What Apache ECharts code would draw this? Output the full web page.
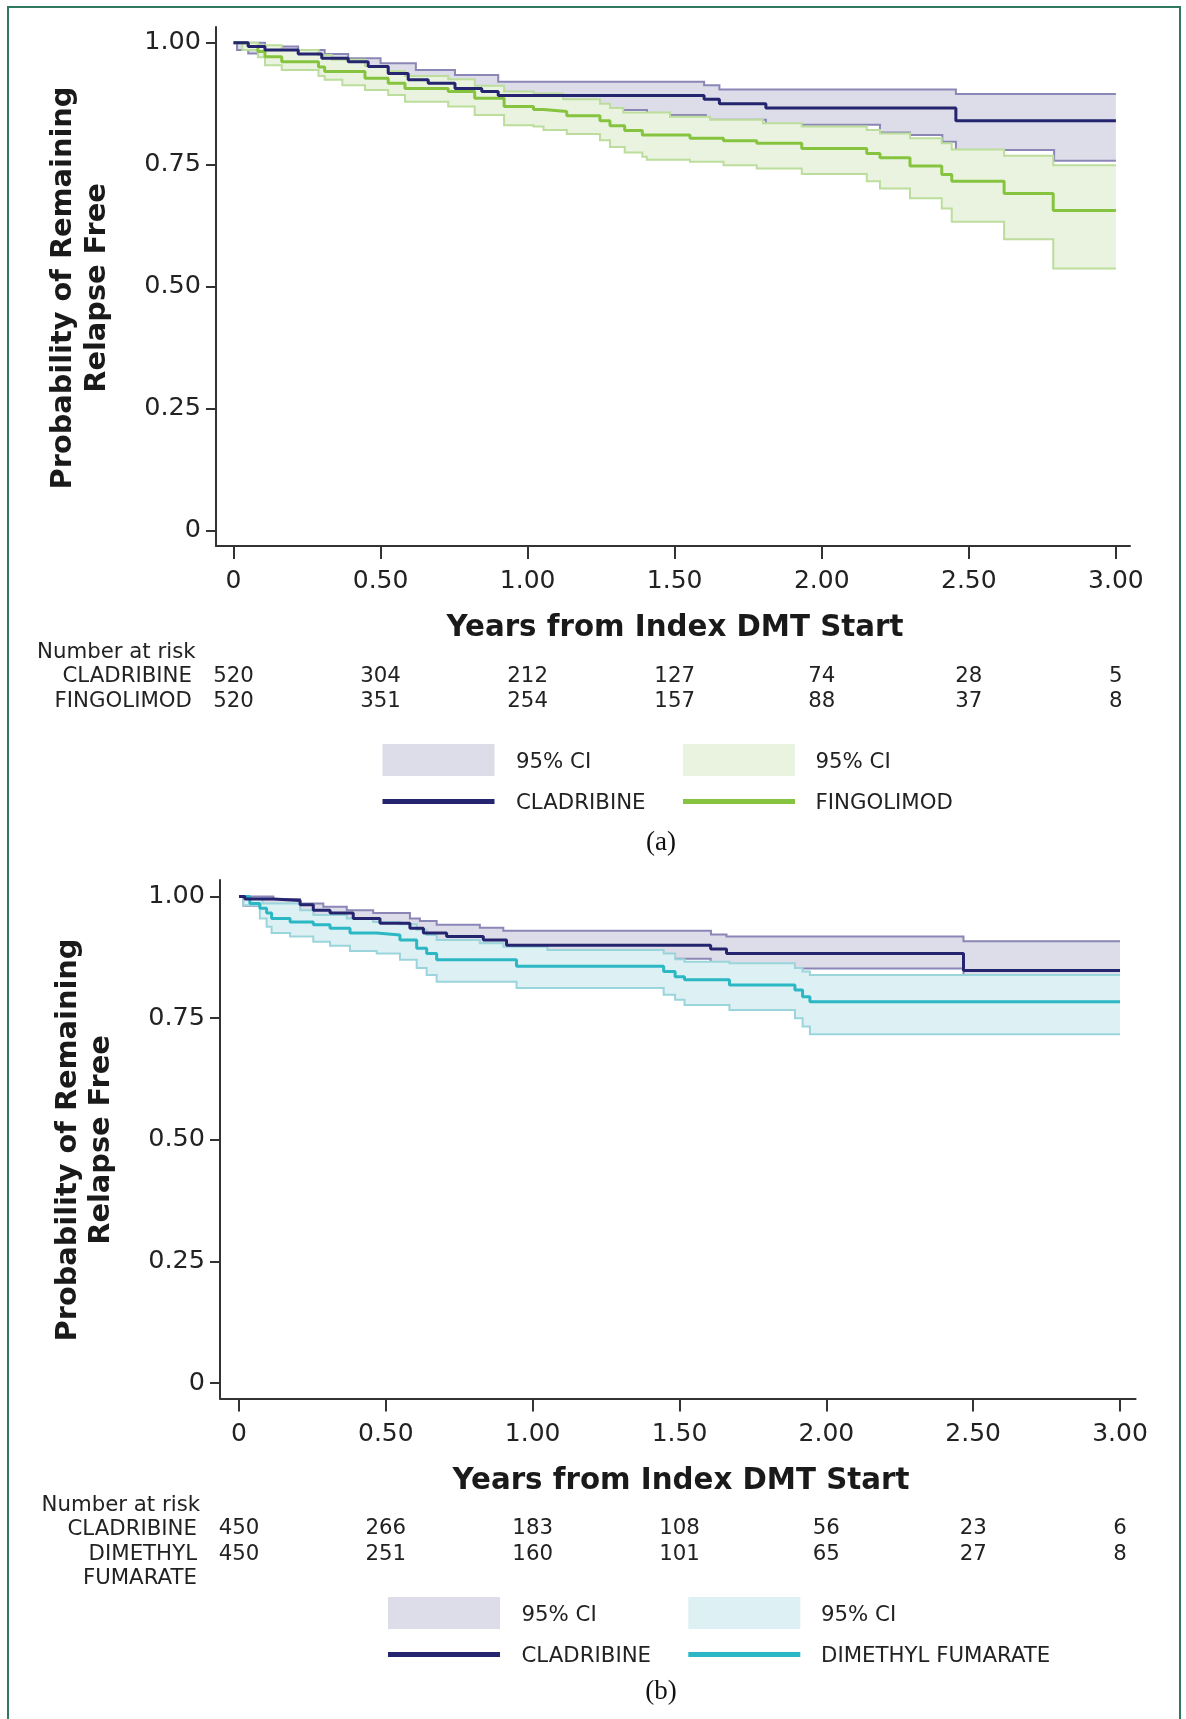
<!DOCTYPE html>
<html><head><meta charset="utf-8">
<script src="https://cdn.jsdelivr.net/npm/echarts@6/dist/echarts.min.js"></script>
<style>
html,body{margin:0;padding:0;background:#fff;}
#chart{position:absolute;left:0;top:0;width:1186px;height:1719px;}
#frame{position:absolute;left:7px;top:6px;width:1174px;height:1760px;border:2px solid #2f7a5f;box-sizing:border-box;pointer-events:none;z-index:5;}
</style></head><body>
<div id="chart"></div>
<div id="frame"></div>
<script>
// ---------- data ----------
const xTicks = [0, 0.5, 1, 1.5, 2, 2.5, 3];
const xTickLabels = ['0', '0.50', '1.00', '1.50', '2.00', '2.50', '3.00'];
const yTicks = [0, 0.25, 0.5, 0.75, 1];
const yTickLabels = ['0', '0.25', '0.50', '0.75', '1.00'];

// Panel (a): Cladribine vs Fingolimod
const cladA_surv = [[0,1.000],[0.05,0.992],[0.107,0.985],[0.22,0.977],[0.30,0.968],[0.39,0.961],[0.458,0.951],[0.526,0.937],[0.594,0.924],[0.662,0.917],[0.753,0.906],[0.844,0.900],[0.90,0.892],[1.60,0.884],[1.652,0.875],[1.81,0.866],[2.456,0.840],[3.0,0.840]];
const cladA_upper = [[0,1.000],[0.107,0.992],[0.22,0.985],[0.31,0.977],[0.39,0.968],[0.50,0.958],[0.62,0.944],[0.753,0.934],[0.90,0.920],[1.60,0.913],[1.652,0.904],[2.456,0.895],[3.0,0.895]];
const cladA_lower = [[0,1.000],[0.012,0.985],[0.05,0.978],[0.107,0.970],[0.22,0.960],[0.30,0.950],[0.39,0.941],[0.458,0.930],[0.526,0.915],[0.594,0.901],[0.662,0.893],[0.753,0.881],[0.844,0.874],[0.90,0.862],[1.406,0.852],[1.606,0.842],[1.81,0.832],[2.198,0.816],[2.30,0.811],[2.41,0.797],[2.456,0.780],[2.79,0.758],[3.0,0.758]];
const fingA_surv = [[0,1.000],[0.05,0.992],[0.083,0.982],[0.107,0.971],[0.164,0.961],[0.289,0.950],[0.31,0.941],[0.447,0.927],[0.526,0.917],[0.583,0.906],[0.73,0.900],[0.82,0.886],[0.92,0.869],[1.02,0.863],[1.054,0.859],[1.133,0.850],[1.246,0.840],[1.28,0.830],[1.33,0.820],[1.39,0.811],[1.552,0.804],[1.666,0.799],[1.779,0.794],[1.932,0.783],[2.153,0.773],[2.198,0.764],[2.30,0.747],[2.408,0.730],[2.442,0.716],[2.62,0.691],[2.787,0.656],[3.0,0.656]];
const fingA_upper = [[0,1.000],[0.083,0.995],[0.164,0.985],[0.289,0.975],[0.334,0.965],[0.447,0.952],[0.526,0.942],[0.583,0.932],[0.73,0.925],[0.82,0.912],[0.92,0.900],[1.02,0.896],[1.121,0.884],[1.246,0.875],[1.28,0.866],[1.325,0.857],[1.484,0.848],[1.62,0.842],[1.80,0.835],[1.932,0.828],[2.153,0.821],[2.198,0.814],[2.30,0.804],[2.408,0.794],[2.442,0.781],[2.62,0.768],[2.787,0.749],[3.0,0.749]];
const fingA_lower = [[0,1.000],[0.03,0.985],[0.083,0.970],[0.107,0.954],[0.164,0.944],[0.289,0.932],[0.31,0.924],[0.37,0.913],[0.447,0.903],[0.526,0.893],[0.583,0.879],[0.73,0.869],[0.82,0.852],[0.92,0.831],[1.02,0.828],[1.054,0.821],[1.133,0.813],[1.246,0.800],[1.28,0.786],[1.33,0.775],[1.39,0.766],[1.405,0.760],[1.552,0.756],[1.666,0.749],[1.779,0.742],[1.932,0.731],[2.153,0.716],[2.198,0.701],[2.30,0.681],[2.408,0.660],[2.442,0.633],[2.62,0.597],[2.787,0.537],[3.0,0.537]];
const riskA_clad = [520, 304, 212, 127, 74, 28, 5];
const riskA_fing = [520, 351, 254, 157, 88, 37, 8];

// Panel (b): Cladribine vs Dimethyl fumarate
const cladB_surv = [[0,1.000],[0.02,0.995],[0.117,0.992],[0.208,0.983],[0.253,0.972],[0.31,0.966],[0.389,0.955],[0.48,0.945],[0.582,0.935],[0.628,0.925],[0.707,0.918],[0.832,0.911],[0.911,0.900],[1.606,0.892],[1.66,0.883],[2.467,0.848],[3.0,0.848]];
const cladB_upper = [[0,1.000],[0.117,0.995],[0.208,0.986],[0.287,0.979],[0.367,0.972],[0.457,0.966],[0.582,0.955],[0.616,0.950],[0.673,0.942],[0.82,0.936],[0.90,0.930],[1.607,0.922],[1.66,0.918],[2.467,0.908],[3.0,0.908]];
const cladB_lower = [[0,1.000],[0.015,0.981],[0.117,0.975],[0.208,0.965],[0.253,0.955],[0.31,0.945],[0.389,0.933],[0.48,0.922],[0.582,0.911],[0.628,0.900],[0.707,0.892],[0.832,0.884],[0.911,0.872],[1.606,0.862],[1.66,0.852],[2.467,0.800],[3.0,0.800]];
const dmfB_surv = [[0,1.000],[0.037,0.986],[0.071,0.976],[0.094,0.966],[0.111,0.955],[0.174,0.948],[0.253,0.942],[0.31,0.935],[0.378,0.925],[0.469,0.921],[0.548,0.911],[0.605,0.894],[0.639,0.883],[0.673,0.870],[0.945,0.857],[1.446,0.846],[1.485,0.835],[1.517,0.829],[1.670,0.818],[1.893,0.808],[1.919,0.794],[1.944,0.784],[3.0,0.784]];
const dmfB_upper = [[0,1.000],[0.02,0.995],[0.08,0.986],[0.208,0.972],[0.253,0.962],[0.367,0.955],[0.457,0.948],[0.548,0.943],[0.605,0.932],[0.639,0.921],[0.673,0.911],[0.82,0.904],[0.90,0.897],[1.05,0.890],[1.446,0.883],[1.485,0.871],[1.517,0.866],[1.670,0.863],[1.893,0.853],[1.919,0.846],[1.944,0.839],[3.0,0.839]];
const dmfB_lower = [[0,1.000],[0.015,0.982],[0.071,0.955],[0.094,0.938],[0.111,0.925],[0.174,0.918],[0.253,0.907],[0.31,0.899],[0.378,0.888],[0.469,0.883],[0.548,0.870],[0.605,0.853],[0.639,0.839],[0.673,0.825],[0.945,0.812],[1.446,0.798],[1.485,0.788],[1.517,0.777],[1.670,0.767],[1.893,0.750],[1.919,0.733],[1.944,0.717],[3.0,0.717]];
const riskB_clad = [450, 266, 183, 108, 56, 23, 6];
const riskB_dmf = [450, 251, 160, 101, 65, 27, 8];

// ---------- styles ----------
const FONT = '"DejaVu Sans", Verdana, sans-serif';
const SMALL = 21.3;
const C = {
  clad: '#25246e', cladFill: '#dddce9', cladEdge: '#8a86b6',
  fing: '#86c440', fingFill: '#e9f3df', fingEdge: '#bcdd9c',
  dmf: '#2bb7c4', dmfFill: '#ddf0f3', dmfEdge: '#9bd5dc',
  axis: '#333', text: '#222'
};

function nearest(v, ticks) {
  let b = 0;
  for (let i = 1; i < ticks.length; i++) if (Math.abs(ticks[i] - v) < Math.abs(ticks[b] - v)) b = i;
  return b;
}
function mainX(grid, min, max) {
  return {
    type: 'value', gridIndex: grid, min: min, max: max, position: 'bottom',
    axisLine: { show: true, onZero: false, lineStyle: { color: C.axis, width: 2 } },
    axisTick: { show: true, length: 13, customValues: xTicks, lineStyle: { color: C.axis, width: 2 } },
    axisLabel: { customValues: xTicks, formatter: v => xTickLabels[nearest(v, xTicks)], fontSize: 25, color: C.text, fontFamily: FONT, margin: 23 },
    splitLine: { show: false }
  };
}
function riskX(grid, min, max, offset, arr) {
  return {
    type: 'value', gridIndex: grid, min: min, max: max, position: 'bottom', offset: offset,
    axisLine: { show: false, onZero: false }, axisTick: { show: false }, splitLine: { show: false },
    axisLabel: { customValues: xTicks, formatter: v => String(arr[nearest(v, xTicks)]), fontSize: SMALL, color: C.text, fontFamily: FONT, margin: 0, verticalAlign: 'middle' }
  };
}
function mainY(grid, min, max) {
  return {
    type: 'value', gridIndex: grid, min: min, max: max,
    axisLine: { show: true, onZero: false, lineStyle: { color: C.axis, width: 2 } },
    axisTick: { show: true, length: 10, customValues: yTicks, lineStyle: { color: C.axis, width: 2 } },
    axisLabel: { customValues: yTicks, formatter: v => yTickLabels[nearest(v, yTicks)], fontSize: 25.5, color: C.text, fontFamily: FONT, margin: 15 },
    splitLine: { show: false }
  };
}
function stepPts(arr, api) {
  const pts = [];
  for (let i = 0; i < arr.length; i++) {
    pts.push(api.coord(arr[i]));
    if (i < arr.length - 1) pts.push(api.coord([arr[i + 1][0], arr[i][1]]));
  }
  return pts;
}
function band(xi, yi, upper, lower, fill, edge) {
  return {
    type: 'custom', xAxisIndex: xi, yAxisIndex: yi, data: upper, silent: true, clip: false,
    renderItem: function (params, api) {
      if (params.dataIndex !== 0) return;
      const up = stepPts(upper, api);
      const lo = stepPts(lower, api);
      const poly = up.concat(lo.slice().reverse());
      return {
        type: 'group', children: [
          { type: 'polygon', shape: { points: poly }, style: { fill: fill } },
          { type: 'polyline', shape: { points: up }, style: { stroke: edge, lineWidth: 2, fill: null } },
          { type: 'polyline', shape: { points: lo }, style: { stroke: edge, lineWidth: 2, fill: null } }
        ]
      };
    }
  };
}
function km(xi, yi, data, color) {
  return { type: 'line', xAxisIndex: xi, yAxisIndex: yi, data: data, step: 'end', symbol: 'none', silent: true,
    lineStyle: { color: color, width: 3 } };
}
function txt(x, y, text, opt) {
  opt = opt || {};
  return {
    type: 'text', x: x, y: y, rotation: opt.rotation || 0, silent: true,
    style: {
      text: text, fill: opt.color || C.text,
      font: (opt.bold ? 'bold ' : '') + (opt.size || SMALL) + 'px ' + (opt.family || FONT),
      align: opt.align || 'left', textAlign: opt.align || 'left',
      verticalAlign: 'middle', textVerticalAlign: 'middle',
      lineHeight: opt.lineHeight || undefined
    }
  };
}
function rect(x, y, w, h, color) {
  return { type: 'rect', shape: { x: x, y: y, width: w, height: h }, style: { fill: color }, silent: true };
}

const A = { xmin: -0.0595, xmax: 3.048, ymin: -0.0318, ymax: 1.0322 };
const B = { xmin: -0.0647, xmax: 3.053, ymin: -0.0321, ymax: 1.0341 };
const SERIF = '"Liberation Serif", "Times New Roman", serif';

const option = {
  animation: false,
  backgroundColor: 'transparent',
  grid: [
    { left: 216, top: 27, width: 914, height: 519 },
    { left: 220, top: 880, width: 915.6, height: 518.6 }
  ],
  xAxis: [
    mainX(0, A.xmin, A.xmax),
    riskX(0, A.xmin, A.xmax, 130, riskA_clad),
    riskX(0, A.xmin, A.xmax, 155, riskA_fing),
    mainX(1, B.xmin, B.xmax),
    riskX(1, B.xmin, B.xmax, 130.3, riskB_clad),
    riskX(1, B.xmin, B.xmax, 155.5, riskB_dmf)
  ],
  yAxis: [ mainY(0, A.ymin, A.ymax), mainY(1, B.ymin, B.ymax) ],
  series: [
    band(0, 0, cladA_upper, cladA_lower, C.cladFill, C.cladEdge),
    band(0, 0, fingA_upper, fingA_lower, C.fingFill, C.fingEdge),
    km(0, 0, fingA_surv, C.fing),
    km(0, 0, cladA_surv, C.clad),
    band(3, 1, cladB_upper, cladB_lower, C.cladFill, C.cladEdge),
    band(3, 1, dmfB_upper, dmfB_lower, C.dmfFill, C.dmfEdge),
    km(3, 1, dmfB_surv, C.dmf),
    km(3, 1, cladB_surv, C.clad)
  ],
  graphic: { elements: [
    // panel a titles
    txt(80.5, 288, 'Probability of Remaining\nRelapse Free', { bold: true, size: 28.8, rotation: Math.PI / 2, align: 'center', lineHeight: 34, color: '#1a1a1a' }),
    txt(675, 628, 'Years from Index DMT Start', { bold: true, size: 29.3, align: 'center', color: '#1a1a1a' }),
    txt(37, 652, 'Number at risk'),
    txt(192, 676, 'CLADRIBINE', { align: 'right' }),
    txt(192, 701, 'FINGOLIMOD', { align: 'right' }),
    // legend a
    rect(382.5, 744, 112, 32, C.cladFill),
    rect(683, 744, 112, 32, C.fingFill),
    txt(516, 762, '95% CI'),
    txt(815.5, 762, '95% CI'),
    rect(382.5, 799, 112, 5, C.clad),
    rect(683, 799, 112, 5, C.fing),
    txt(516, 803, 'CLADRIBINE'),
    txt(815.5, 803, 'FINGOLIMOD'),
    txt(661, 843, '(a)', { size: 27, align: 'center', family: SERIF, color: '#111' }),
    // panel b titles
    txt(85.5, 1140, 'Probability of Remaining\nRelapse Free', { bold: true, size: 28.8, rotation: Math.PI / 2, align: 'center', lineHeight: 33, color: '#1a1a1a' }),
    txt(681, 1481, 'Years from Index DMT Start', { bold: true, size: 29.3, align: 'center', color: '#1a1a1a' }),
    txt(41.5, 1505, 'Number at risk'),
    txt(197, 1529, 'CLADRIBINE', { align: 'right' }),
    txt(197, 1554, 'DIMETHYL', { align: 'right' }),
    txt(197, 1578, 'FUMARATE', { align: 'right' }),
    // legend b
    rect(388, 1597, 112, 32, C.cladFill),
    rect(688.3, 1597, 112, 32, C.dmfFill),
    txt(521.5, 1615, '95% CI'),
    txt(821, 1615, '95% CI'),
    rect(388, 1652, 112, 5, C.clad),
    rect(688.3, 1652, 112, 5, C.dmf),
    txt(521.5, 1656, 'CLADRIBINE'),
    txt(821, 1656, 'DIMETHYL FUMARATE'),
    txt(661, 1692, '(b)', { size: 27, align: 'center', family: SERIF, color: '#111' })
  ] }
};

const chart = echarts.init(document.getElementById('chart'), null, { renderer: 'canvas' });
chart.setOption(option);
</script>
</body></html>
